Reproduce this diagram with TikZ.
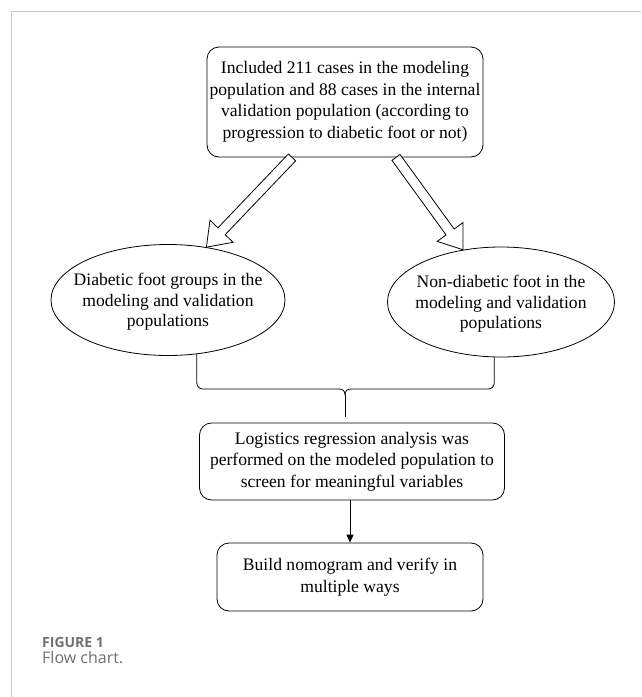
\documentclass[tikz,border=0pt]{standalone}
\usepackage{fontspec}
\setmainfont{Liberation Serif}
\newfontfamily\capfont{Open Sans}
\usetikzlibrary{calc,arrows.meta,shapes.geometric}
\definecolor{framegray}{HTML}{C8C8C8}
\definecolor{capgray}{HTML}{707070}
\tikzset{
  txt/.style={font=\fontsize{17.6}{21.5}\selectfont},
  box/.style={draw, rounded corners=12pt, line width=0.8pt, align=center, inner sep=0pt, txt},
  oval/.style={draw, ellipse, line width=0.8pt, inner sep=0pt},
  ovaltext/.style={align=center, inner sep=0pt, font=\fontsize{17.6}{20.5}\selectfont},
  conn/.style={line width=0.8pt},
  hollow/.style={draw, line width=0.8pt, fill=white, line join=miter}
}
\newcommand\hollowarrow[2]{%
  \draw[hollow]
    ($(#1)!5pt!90:(#2)$) --
    ($($(#2)!22pt!(#1)$)!5pt!90:(#2)$) --
    ($($(#2)!22pt!(#1)$)!16pt!90:(#2)$) --
    (#2) --
    ($($(#2)!22pt!(#1)$)!16pt!-90:(#2)$) --
    ($($(#2)!22pt!(#1)$)!5pt!-90:(#2)$) --
    ($(#1)!5pt!-90:(#2)$) -- cycle;}
\begin{document}
\begin{tikzpicture}[x=1pt,y=-1pt]
\useasboundingbox (0,0) rectangle (641,697);
% frame
\draw[framegray, line width=0.9pt] (11,697) -- (11,11) -- (641,11);

% top box
\node[box, minimum width=276pt, minimum height=110pt] (T) at (345,102)
  {Included 211 cases in the modeling\\population and 88 cases in the internal\\validation population (according to\\progression to diabetic foot or not)};

% ellipses
\node[oval, minimum width=234pt, minimum height=111pt] (L) at (168,300) {};
\node[ovaltext] (Lt) at (168,302) {Diabetic foot groups in the\\modeling and validation\\populations};
\node[oval, minimum width=227pt, minimum height=110pt] (R) at (501,302) {};
\node[ovaltext] (Rt) at (501,304) {Non-diabetic foot in the\\modeling and validation\\populations};

% logistics box
\node[box, minimum width=305pt, minimum height=77pt] (G) at (352,461.5)
  {Logistics regression analysis was\\performed on the modeled population to\\screen for meaningful variables};

% build box
\node[box, minimum width=266pt, minimum height=68pt] (B) at (350,577)
  {Build nomogram and verify in\\multiple ways};

% hollow arrows
\coordinate (a1) at ([xshift=-53pt]T.south);
\coordinate (a1t) at (L.54);
\coordinate (a2) at ([xshift=51pt]T.south);
\coordinate (a2t) at (R.126);
\hollowarrow{a1}{a1t}
\hollowarrow{a2}{a2t}

% curly brace connector
\coordinate (bt) at (345,395);
\draw[conn, rounded corners=6pt] (L.-62) |- (339,389);
\draw[conn] (339,389) .. controls (343,389) and (345,391) .. (bt);
\draw[conn, rounded corners=6pt] (R.-97) |- (351,389);
\draw[conn] (351,389) .. controls (347,389) and (345,391) .. (bt);
\draw[conn] (bt) -- ([yshift=6pt]bt |- G.north);

% arrow
\draw[conn, -{Triangle[length=8pt,width=7pt]}] (B.north |- G.south) -- (B.north);

% caption
\node[anchor=base west, inner sep=0pt, text=capgray, font=\capfont\bfseries\fontsize{14}{16}\selectfont] (cap1) at (42,647) {FIGURE 1};
\node[anchor=base west, inner sep=0pt, text=capgray, font=\capfont\fontsize{16}{18}\selectfont] (cap2) at (42,663) {Flow chart.};
\end{tikzpicture}
\end{document}
